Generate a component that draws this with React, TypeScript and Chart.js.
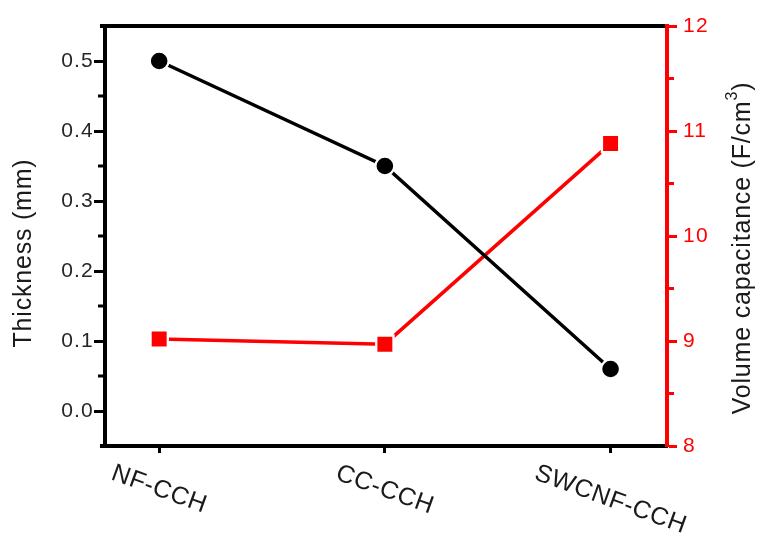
import { useEffect, useRef } from 'react';
import { Chart, registerables } from 'chart.js';

Chart.register(...registerables);

// Samples on the shared category axis
const categories = ['NF-CCH', 'CC-CCH', 'SWCNF-CCH'];

// Left axis: electrode thickness (mm)
const thickness = [0.5, 0.35, 0.06];
const thicknessTicks = [0, 0.1, 0.2, 0.3, 0.4, 0.5];
const thicknessMinor = [0.05, 0.15, 0.25, 0.35, 0.45];

// Right axis: volumetric capacitance (F/cm3)
const capacitance = [9.02, 8.97, 10.88];
const capacitanceTicks = [8, 9, 10, 11, 12];
const capacitanceMinor = [8.5, 9.5, 10.5, 11.5];

const FONT = '"Liberation Sans", Arial, Helvetica, sans-serif';
const RED = '#ff0000';
const INK = '#1a1a1a';

const frameAndLabels = {
  id: 'frameAndLabels',
  beforeDraw(chart: any) {
    chart.ctx.letterSpacing = '1.2px';
  },
  afterDraw(chart: any) {
    const { ctx, chartArea, scales } = chart;
    const { left, right, top, bottom } = chartArea;
    ctx.save();

    // top frame line and left overhang of the bottom line
    ctx.strokeStyle = '#000';
    ctx.lineWidth = 4;
    ctx.beginPath();
    ctx.moveTo(left - 5, top);
    ctx.lineTo(right - 2, top);
    ctx.moveTo(left - 5, bottom);
    ctx.lineTo(left + 4, bottom);
    ctx.stroke();

    // minor ticks
    ctx.lineWidth = 3;
    ctx.strokeStyle = '#000';
    ctx.beginPath();
    thicknessMinor.forEach((v) => {
      const y = scales.y.getPixelForValue(v);
      ctx.moveTo(left - 7, y);
      ctx.lineTo(left, y);
    });
    ctx.stroke();
    ctx.strokeStyle = RED;
    ctx.beginPath();
    capacitanceMinor.forEach((v) => {
      const y = scales.y1.getPixelForValue(v);
      ctx.moveTo(right, y);
      ctx.lineTo(right + 7, y);
    });
    ctx.stroke();

    const midY = (top + bottom) / 2;
    ctx.letterSpacing = '0.8px';

    // left axis title
    ctx.fillStyle = INK;
    ctx.font = `25px ${FONT}`;
    ctx.textAlign = 'center';
    ctx.textBaseline = 'middle';
    ctx.save();
    ctx.translate(24, midY + 17);
    ctx.rotate(-Math.PI / 2);
    ctx.fillText('Thickness (mm)', 0, 0);
    ctx.restore();

    // right axis title with superscript unit
    const main = 'Volume capacitance (F/cm';
    const sup = '3';
    const close = ')';
    ctx.font = `25px ${FONT}`;
    const wMain = ctx.measureText(main).width;
    const wClose = ctx.measureText(close).width;
    ctx.font = `16px ${FONT}`;
    const wSup = ctx.measureText(sup).width;
    const total = wMain + wSup + wClose;
    ctx.save();
    ctx.translate(743, midY + 12);
    ctx.rotate(-Math.PI / 2);
    ctx.textAlign = 'left';
    let x0 = -total / 2;
    ctx.font = `25px ${FONT}`;
    ctx.fillText(main, x0, 0);
    x0 += wMain;
    ctx.font = `16px ${FONT}`;
    ctx.fillText(sup, x0, -10);
    x0 += wSup;
    ctx.font = `25px ${FONT}`;
    ctx.fillText(close, x0, 0);
    ctx.restore();

    // slanted category labels
    const ang = (20 * Math.PI) / 180;
    ctx.font = `25px ${FONT}`;
    ctx.letterSpacing = '0.6px';
    ctx.fillStyle = INK;
    ctx.textAlign = 'center';
    ctx.textBaseline = 'middle';
    categories.forEach((c, i) => {
      const x = scales.x.getPixelForValue(i);
      const w = ctx.measureText(c).width;
      const h = 18;
      const cy = bottom + 18 + (w * Math.sin(ang) + h * Math.cos(ang)) / 2;
      ctx.save();
      ctx.translate(x, cy);
      ctx.rotate(ang);
      ctx.fillText(c, 0, 0);
      ctx.restore();
    });

    ctx.restore();
    ctx.letterSpacing = '0px';
  },
};

export default function App() {
  const canvasRef = useRef<HTMLCanvasElement | null>(null);

  useEffect(() => {
    const canvas = canvasRef.current;
    if (!canvas) return;

    const chart = new Chart(canvas, {
      type: 'line',
      data: {
        datasets: [
          {
            label: 'Thickness',
            data: thickness.map((y, i) => ({ x: i, y })),
            xAxisID: 'x',
            yAxisID: 'y',
            borderColor: '#000',
            backgroundColor: '#000',
            borderWidth: 3.5,
            tension: 0,
            pointStyle: 'circle',
            pointRadius: 9.4,
            pointBorderWidth: 2.2,
            pointBorderColor: '#fff',
            pointBackgroundColor: '#000',
          },
          {
            label: 'Volume capacitance',
            data: capacitance.map((y, i) => ({ x: i, y })),
            xAxisID: 'x',
            yAxisID: 'y1',
            borderColor: RED,
            backgroundColor: RED,
            borderWidth: 3.5,
            tension: 0,
            pointStyle: 'rect',
            pointRadius: 12.2,
            pointBorderWidth: 2.3,
            pointBorderColor: '#fff',
            pointBackgroundColor: RED,
          },
        ],
      },
      options: {
        animation: false,
        responsive: false,
        devicePixelRatio: 1,
        events: [],
        layout: { padding: { top: 26, left: 0, right: 0, bottom: 0 } },
        plugins: {
          legend: { display: false },
          tooltip: { enabled: false },
        },
        scales: {
          x: {
            type: 'linear',
            position: 'bottom',
            min: -0.24,
            max: 2.25,
            afterBuildTicks: (s: any) => {
              s.ticks = categories.map((_, i) => ({ value: i }));
            },
            ticks: { display: false },
            grid: {
              drawOnChartArea: false,
              drawTicks: true,
              tickLength: 7,
              tickWidth: 3,
              tickColor: '#000',
            },
            border: { display: true, color: '#000', width: 4 },
            afterFit: (s: any) => {
              s.height = 91;
            },
          },
          y: {
            type: 'linear',
            position: 'left',
            min: -0.05,
            max: 0.55,
            afterBuildTicks: (s: any) => {
              s.ticks = thicknessTicks.map((v) => ({ value: v }));
            },
            ticks: {
              color: '#262626',
              font: { family: FONT, size: 21 },
              padding: 0,
              callback: (v: any) => Number(v).toFixed(1),
            },
            grid: {
              drawOnChartArea: false,
              tickLength: 11,
              tickWidth: 3,
              tickColor: '#000',
            },
            border: { display: true, color: '#000', width: 4 },
            afterFit: (s: any) => {
              s.width = 105;
            },
          },
          y1: {
            type: 'linear',
            position: 'right',
            min: 8,
            max: 12,
            afterBuildTicks: (s: any) => {
              s.ticks = capacitanceTicks.map((v) => ({ value: v }));
            },
            ticks: {
              color: RED,
              font: { family: FONT, size: 21 },
              padding: 6,
              callback: (v: any) => String(v),
            },
            grid: {
              drawOnChartArea: false,
              tickLength: 10,
              tickWidth: 3,
              tickColor: RED,
            },
            border: { display: true, color: RED, width: 4 },
            afterFit: (s: any) => {
              s.width = 95;
            },
          },
        },
      },
      plugins: [frameAndLabels],
    });

    return () => chart.destroy();
  }, []);

  return (
    <div style={{ position: 'fixed', left: 0, top: 0, width: 762, height: 537, background: '#fff' }}>
      <canvas ref={canvasRef} width={762} height={537} style={{ display: 'block' }} />
    </div>
  );
}
